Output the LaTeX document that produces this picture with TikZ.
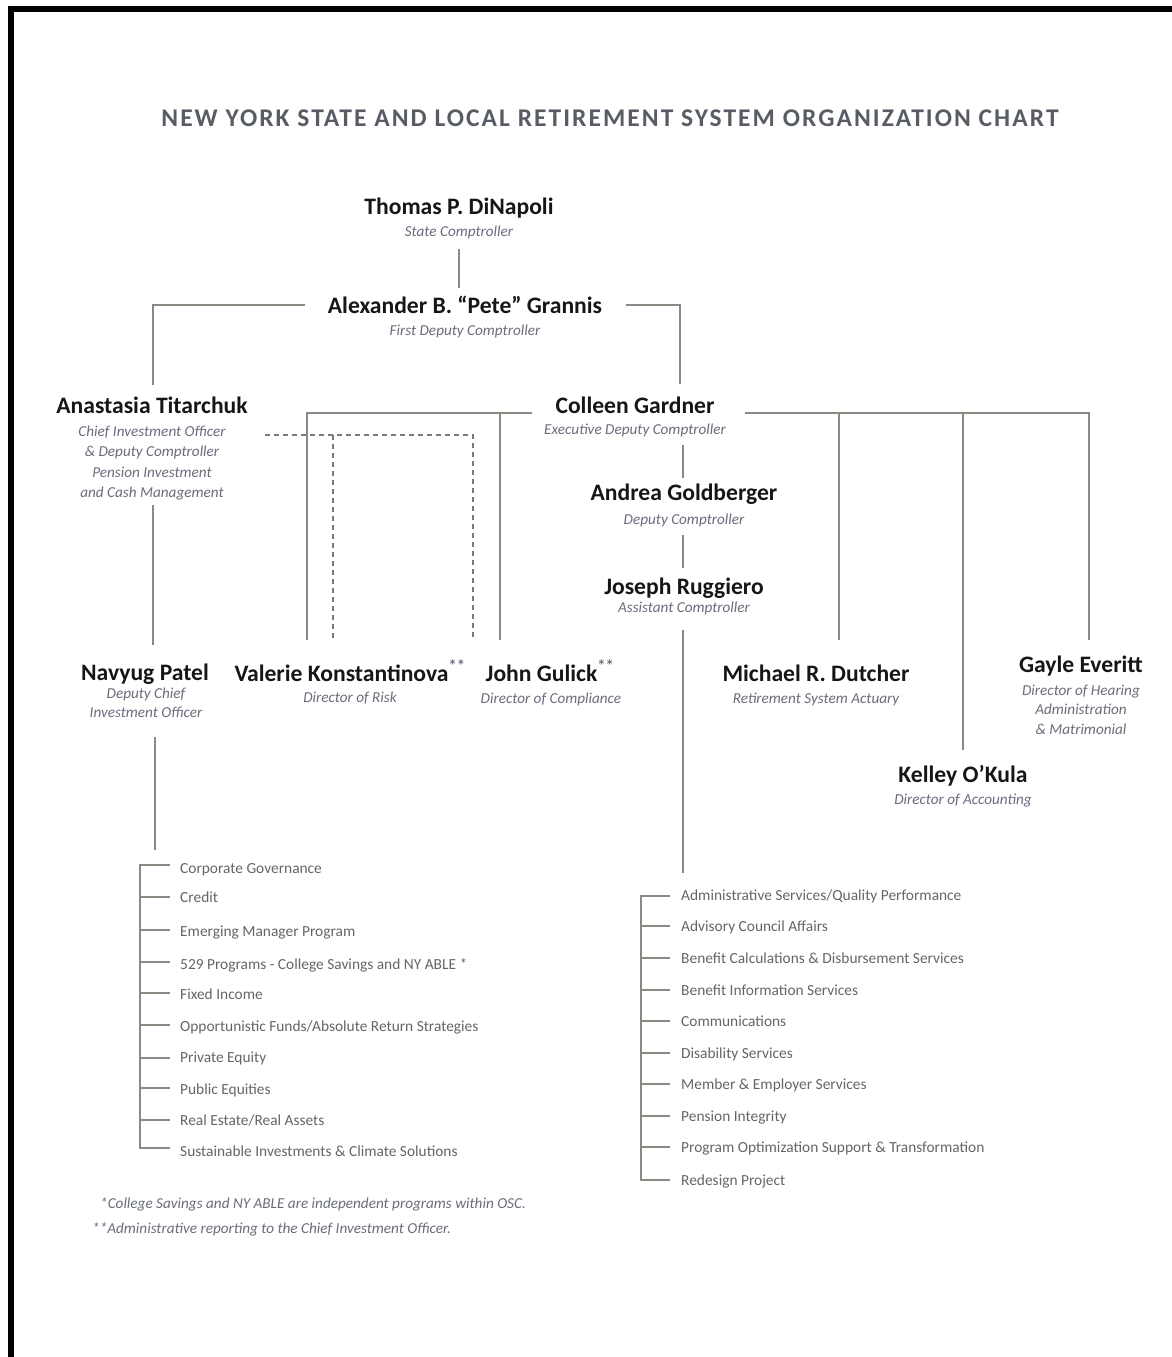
\documentclass[tikz,border=0pt]{standalone}
\usepackage{fontspec}
\setmainfont{Carlito}
\newfontfamily\headfont[LetterSpace=8]{Carlito}
\definecolor{namec}{HTML}{161616}
\definecolor{titlec}{HTML}{6A6D7C}
\definecolor{itemc}{HTML}{66646A}
\definecolor{headc}{HTML}{585D65}
\definecolor{linec}{HTML}{8A8A82}
\definecolor{dashc}{HTML}{7A7A7A}
\begin{document}
\begin{tikzpicture}[x=1pt,y=-1pt,
  nm/.style={anchor=base, inner sep=0pt, text=namec, font=\fontsize{23.6}{27}\selectfont\bfseries},
  ttl/.style={anchor=base, inner sep=0pt, text=titlec, font=\fontsize{15.2}{18}\selectfont\itshape},
  itm/.style={anchor=base west, inner sep=0pt, text=itemc, font=\fontsize{15.4}{18}\selectfont},
  fnote/.style={anchor=base west, inner sep=0pt, text=titlec, font=\fontsize{15.2}{18}\selectfont\itshape},
  conn/.style={draw=linec, line width=2pt},
  dsh/.style={draw=dashc, line width=1.6pt, dash pattern=on 5pt off 4pt},
  frame/.style={draw=black, line width=6pt}
]
\useasboundingbox (0,0) rectangle (1172,1357);
\fill[white] (0,0) rectangle (1172,1357);
\coordinate (fA) at (11,1357);
\coordinate (fB) at (11,9);
\coordinate (fC) at (1172,9);
\draw[frame] (fA) -- (fB) -- (fC);

% heading
\node[anchor=base, inner sep=0pt, text=headc, font=\headfont\fontsize{25.5}{29}\selectfont\bfseries] (head) at (610,126)
  {NEW YORK STATE AND LOCAL RETIREMENT SYSTEM ORGANIZATION CHART};

% people
\node[nm] (thomas) at (459,214) {Thomas P. DiNapoli};
\node[ttl] (thomasT) at (459,236) {State Comptroller};
\node[nm] (grannis) at (465,313) {Alexander B. “Pete” Grannis};
\node[ttl] (grannisT) at (465,335) {First Deputy Comptroller};
\node[nm] (anast) at (152,413) {Anastasia Titarchuk};
\node[ttl] (anastT1) at (152,436) {Chief Investment Officer};
\node[ttl] (anastT2) at (152,456) {\& Deputy Comptroller};
\node[ttl] (anastT3) at (152,477) {Pension Investment};
\node[ttl] (anastT4) at (152,497) {and Cash Management};
\node[nm] (colleen) at (635,413) {Colleen Gardner};
\node[ttl] (colleenT) at (635,434) {Executive Deputy Comptroller};
\node[nm] (andrea) at (684,500) {Andrea Goldberger};
\node[ttl] (andreaT) at (684,524) {Deputy Comptroller};
\node[nm] (joseph) at (684,594) {Joseph Ruggiero};
\node[ttl] (josephT) at (684,612) {Assistant Comptroller};
\node[nm] (navyug) at (145,680) {Navyug Patel};
\node[ttl] (navyugT1) at (146,698) {Deputy Chief};
\node[ttl] (navyugT2) at (146,717) {Investment Officer};
\node[nm] (valerie) at (350,681) {Valerie Konstantinova\textsuperscript{\textcolor{titlec}{**}}};
\node[ttl] (valerieT) at (350,702) {Director of Risk};
\node[nm] (gulick) at (550,681) {John Gulick\textsuperscript{\textcolor{titlec}{**}}};
\node[ttl] (gulickT) at (551,703) {Director of Compliance};
\node[nm] (dutcher) at (816,681) {Michael R. Dutcher};
\node[ttl] (dutcherT) at (816,703) {Retirement System Actuary};
\node[nm] (gayle) at (1081,672) {Gayle Everitt};
\node[ttl] (gayleT1) at (1081,695) {Director of Hearing};
\node[ttl] (gayleT2) at (1081,714) {Administration};
\node[ttl] (gayleT3) at (1081,734) {\& Matrimonial};
\node[nm] (kelley) at (963,782) {Kelley O’Kula};
\node[ttl] (kelleyT) at (963,804) {Director of Accounting};

% junction coordinates
\coordinate (a1) at (459,249); \coordinate (a2) at (459,288);
\coordinate (g1) at (305,305); \coordinate (g2) at (153,305); \coordinate (g3) at (153,385);
\coordinate (g4) at (626,305); \coordinate (g5) at (680,305); \coordinate (g6) at (680,384);
\coordinate (t1) at (153,505); \coordinate (t2) at (153,645);
\coordinate (n1) at (155,737); \coordinate (n2) at (155,850);
\coordinate (c1) at (532,413); \coordinate (c2) at (307,413); \coordinate (c3) at (307,640);
\coordinate (c4) at (500,413); \coordinate (c5) at (500,640);
\coordinate (c6) at (745,413); \coordinate (c7) at (1089,413); \coordinate (c8) at (1089,640);
\coordinate (c9) at (839,413); \coordinate (c10) at (839,640);
\coordinate (c11) at (963,413); \coordinate (c12) at (963,750);
\coordinate (d1) at (683,445); \coordinate (d2) at (683,478);
\coordinate (d3) at (683,535); \coordinate (d4) at (683,568);
\coordinate (d5) at (683,630); \coordinate (d6) at (683,873);
\coordinate (s1) at (265,435); \coordinate (s2) at (473,435); \coordinate (s3) at (473,640);
\coordinate (s4) at (333,435); \coordinate (s5) at (333,640);

\draw[conn] (a1) -- (a2);
\draw[conn] (g1) -- (g2) -- (g3);
\draw[conn] (g4) -- (g5) -- (g6);
\draw[conn] (t1) -- (t2);
\draw[conn] (n1) -- (n2);
\draw[conn] (c1) -- (c2) -- (c3);
\draw[conn] (c4) -- (c5);
\draw[conn] (c6) -- (c7) -- (c8);
\draw[conn] (c9) -- (c10);
\draw[conn] (c11) -- (c12);
\draw[conn] (d1) -- (d2);
\draw[conn] (d3) -- (d4);
\draw[conn] (d5) -- (d6);
\draw[dsh] (s1) -- (s2) -- (s3);
\draw[dsh] (s4) -- (s5);

% left list
\foreach \y [count=\i] in {865,897,930,962,993,1025,1058,1088,1120,1148} {
  \coordinate (lb\i) at (140,\y);
  \coordinate (le\i) at (170,\y);
}
\draw[conn] (le1) -- (lb1) -- (lb10) -- (le10);
\foreach \i in {2,...,9} { \draw[conn] (lb\i) -- (le\i); }
\node[itm] (l1) at (180,873) {Corporate Governance};
\node[itm] (l2) at (180,902) {Credit};
\node[itm] (l3) at (180,936) {Emerging Manager Program};
\node[itm] (l4) at (180,969) {529 Programs - College Savings and NY ABLE *};
\node[itm] (l5) at (180,999) {Fixed Income};
\node[itm] (l6) at (180,1031) {Opportunistic Funds/Absolute Return Strategies};
\node[itm] (l7) at (180,1062) {Private Equity};
\node[itm] (l8) at (180,1094) {Public Equities};
\node[itm] (l9) at (180,1125) {Real Estate/Real Assets};
\node[itm] (l10) at (180,1156) {Sustainable Investments \& Climate Solutions};

% right list
\foreach \y [count=\i] in {896,926,958,990,1021,1053,1084,1116,1147,1180} {
  \coordinate (rb\i) at (641,\y);
  \coordinate (re\i) at (670,\y);
}
\draw[conn] (re1) -- (rb1) -- (rb10) -- (re10);
\foreach \i in {2,...,9} { \draw[conn] (rb\i) -- (re\i); }
\node[itm] (r1) at (681,900) {Administrative Services/Quality Performance};
\node[itm] (r2) at (681,931) {Advisory Council Affairs};
\node[itm] (r3) at (681,963) {Benefit Calculations \& Disbursement Services};
\node[itm] (r4) at (681,995) {Benefit Information Services};
\node[itm] (r5) at (681,1026) {Communications};
\node[itm] (r6) at (681,1058) {Disability Services};
\node[itm] (r7) at (681,1089) {Member \& Employer Services};
\node[itm] (r8) at (681,1121) {Pension Integrity};
\node[itm] (r9) at (681,1152) {Program Optimization Support \& Transformation};
\node[itm] (r10) at (681,1185) {Redesign Project};

% footnotes
\node[fnote] (fn1) at (100,1208) {*College Savings and NY ABLE are independent programs within OSC.};
\node[fnote] (fn2) at (92,1233) {**Administrative reporting to the Chief Investment Officer.};
\end{tikzpicture}
\end{document}
